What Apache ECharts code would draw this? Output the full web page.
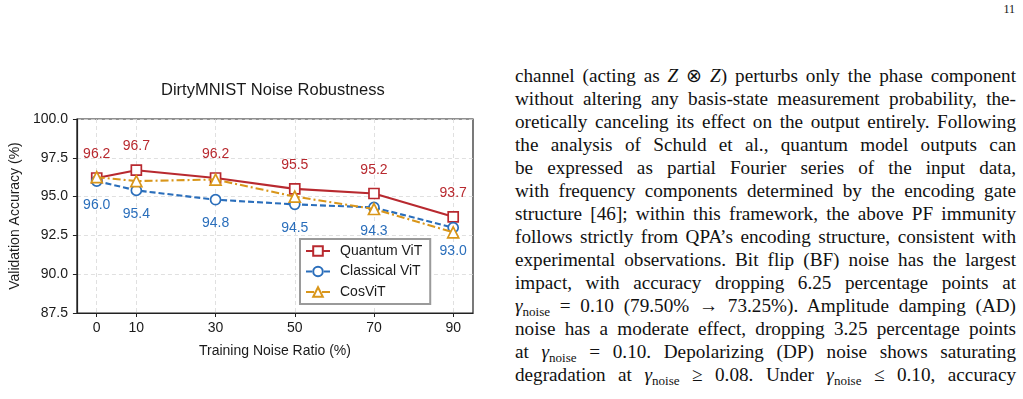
<!DOCTYPE html>
<html>
<head>
<meta charset="utf-8">
<script src="https://cdn.jsdelivr.net/npm/echarts@6/dist/echarts.min.js"></script>
<style>
  html, body { margin: 0; padding: 0; background: #fff; }
  #main { position: absolute; left: 0; top: 0; width: 500px; height: 399px; }
  #pageno { position: absolute; right: 8px; top: 2px; font-family: "Liberation Serif", serif; font-size: 12px; color: #111; }
  #text { position: absolute; left: 515px; top: 64px; width: 501px; font-family: "Liberation Serif", "Times New Roman", serif; font-size: 19.2px; line-height: 23px; color: #111; }
  #text div { text-align: justify; text-align-last: justify; }
  #text i { font-style: italic; }
  .sub { font-size: 0.68em; vertical-align: -0.3em; line-height: 0; font-style: normal; }
</style>
</head>
<body>
<div id="main"></div>
<div id="pageno">11</div>
<div id="text">
  <div>channel (acting as <i>Z</i> ⊗ <i>Z</i>) perturbs only the phase component</div>
  <div>without altering any basis-state measurement probability, the-</div>
  <div>oretically canceling its effect on the output entirely. Following</div>
  <div>the analysis of Schuld et al., quantum model outputs can</div>
  <div>be expressed as partial Fourier series of the input data,</div>
  <div>with frequency components determined by the encoding gate</div>
  <div>structure [46]; within this framework, the above PF immunity</div>
  <div>follows strictly from QPA’s encoding structure, consistent with</div>
  <div>experimental observations. Bit flip (BF) noise has the largest</div>
  <div>impact, with accuracy dropping 6.25 percentage points at</div>
  <div><i>γ</i><span class="sub">noise</span> = 0.10 (79.50% → 73.25%). Amplitude damping (AD)</div>
  <div>noise has a moderate effect, dropping 3.25 percentage points</div>
  <div>at <i>γ</i><span class="sub">noise</span> = 0.10. Depolarizing (DP) noise shows saturating</div>
  <div>degradation at <i>γ</i><span class="sub">noise</span> ≥ 0.08. Under <i>γ</i><span class="sub">noise</span> ≤ 0.10, accuracy</div>
</div>
<script>
// training noise ratio (%) on x, validation accuracy (%) on y
var noiseRatio   = [0, 10, 30, 50, 70, 90];
var quantumVit   = [96.2, 96.7, 96.2, 95.5, 95.2, 93.7];
var classicalVit = [96.0, 95.4, 94.8, 94.5, 94.3, 93.0];
var cosVit       = [96.25, 96.0, 96.1, 95.0, 94.2, 92.7];

var seriesNames = ['Quantum ViT', 'Classical ViT', 'CosViT'];

var RED = '#b8292f', BLUE = '#2a6ebb', GOLD = '#d9961a';
var FONT = 'Liberation Sans';
var INK = '#1a1a1a';

function pairs(ys) {
  return ys.map(function (v, i) { return [noiseRatio[i], v]; });
}
function fmt(p) { return p.value[1].toFixed(1); }

var myChart = echarts.init(document.getElementById('main'));

var option = {
  animation: false,
  title: {
    text: 'DirtyMNIST Noise Robustness',
    left: 161, top: 82, padding: 0,
    textStyle: { fontFamily: FONT, fontSize: 16.5, fontWeight: 'normal', color: INK }
  },
  legend: {
    data: seriesNames,
    orient: 'vertical',
    left: 300, top: 239,
    itemWidth: 24, itemHeight: 12, itemGap: 6.5,
    padding: [5, 8, 5, 5],
    borderColor: '#9a9a9a', borderWidth: 2, borderRadius: 0,
    backgroundColor: '#fff',
    textStyle: { fontFamily: FONT, fontSize: 14, color: INK, padding: [0, 0, 0, 5] }
  },
  grid: {
    left: 73, top: 119, width: 400, height: 194,
    show: true, borderColor: '#222', borderWidth: 1.2, backgroundColor: 'transparent'
  },
  xAxis: {
    type: 'value', min: -5, max: 95,
    name: 'Training Noise Ratio (%)', nameLocation: 'middle', nameGap: 31,
    nameTextStyle: { fontFamily: FONT, fontSize: 14, color: INK },
    axisLine: { onZero: false, lineStyle: { color: '#222', width: 1.2 } },
    axisTick: { customValues: noiseRatio, length: 4, lineStyle: { color: '#222', width: 1 } },
    axisLabel: { customValues: noiseRatio, margin: 8, fontFamily: FONT, fontSize: 14, color: INK },
    splitLine: { show: true, lineStyle: { color: '#d8d8d8', type: [4, 3], width: 0.8 } }
  },
  yAxis: {
    type: 'value', min: 87.5, max: 100, interval: 2.5,
    name: 'Validation Accuracy (%)', nameLocation: 'middle', nameGap: 54,
    nameTextStyle: { fontFamily: FONT, fontSize: 14, color: INK },
    axisLine: { show: true, onZero: false, lineStyle: { color: '#222', width: 1.2 } },
    axisTick: { show: true, length: 4, lineStyle: { color: '#222', width: 1 } },
    axisLabel: { margin: 9, fontFamily: FONT, fontSize: 14, color: INK,
      formatter: function (v) { return v.toFixed(1); } },
    splitLine: { show: true, lineStyle: { color: '#d8d8d8', type: [4, 3], width: 0.8 } }
  },
  series: [
    {
      name: seriesNames[0], type: 'line', data: pairs(quantumVit),
      symbol: 'rect', symbolSize: 10,
      itemStyle: { color: '#fff', borderColor: RED, borderWidth: 1.7 },
      lineStyle: { color: RED, width: 2.1 },
      label: { show: true, position: 'top', distance: 11, color: RED, fontFamily: FONT, fontSize: 14, formatter: fmt },
      emphasis: { disabled: true }, z: 2
    },
    {
      name: seriesNames[1], type: 'line', data: pairs(classicalVit),
      symbol: 'circle', symbolSize: 10,
      itemStyle: { color: '#fff', borderColor: BLUE, borderWidth: 1.7 },
      lineStyle: { color: BLUE, width: 2.1, type: [6, 3] },
      label: { show: true, position: 'bottom', distance: 11, color: BLUE, fontFamily: FONT, fontSize: 14, formatter: fmt },
      emphasis: { disabled: true }, z: 3
    },
    {
      name: seriesNames[2], type: 'line', data: pairs(cosVit),
      symbol: 'triangle', symbolSize: 11,
      itemStyle: { color: '#fff', borderColor: GOLD, borderWidth: 1.7 },
      lineStyle: { color: GOLD, width: 2.1, type: [8, 3, 2, 3] },
      emphasis: { disabled: true }, z: 4
    }
  ]
};

myChart.setOption(option);
window.onresize = myChart.resize;
</script>
</body>
</html>
